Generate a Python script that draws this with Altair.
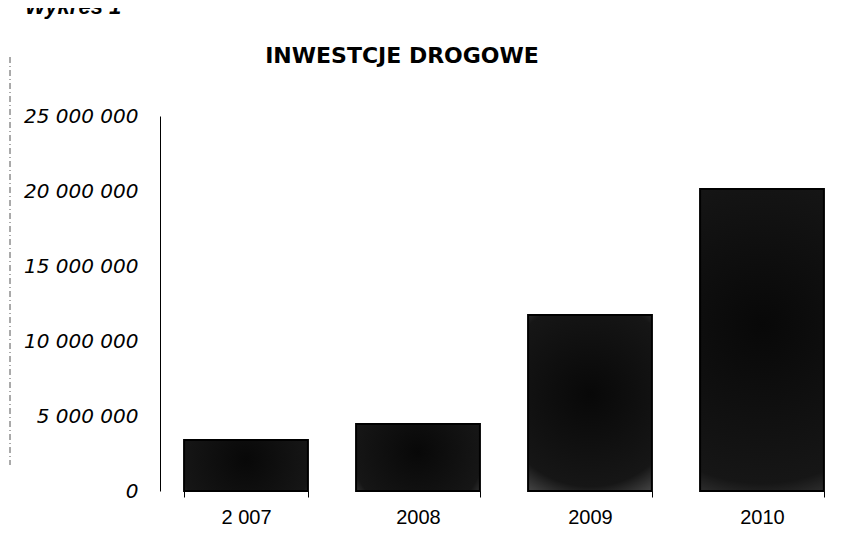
import altair as alt
import pandas as pd

years = ["2 007", "2008", "2009", "2010"]
values = [3400000, 4470000, 11730000, 20130000]
y_ticks = [0, 5000000, 10000000, 15000000, 20000000, 25000000]

df = pd.DataFrame({"rok": years, "wartosc": values})

FONT = "Liberation Sans"
WIDE = "DejaVu Sans"

grad = alt.RadialGradient(
    gradient="radial",
    stops=[
        alt.GradientStop(color="#080808", offset=0),
        alt.GradientStop(color="#161616", offset=0.7),
        alt.GradientStop(color="#6a6a6a", offset=1),
    ],
    x1=0.5, y1=0.45, r1=0, x2=0.5, y2=0.45, r2=0.75,
)

bars = alt.Chart(df).mark_bar(color=grad, stroke="#000000", strokeWidth=2).encode(
    x=alt.X(
        "rok:N",
        sort=years,
        title=None,
        scale=alt.Scale(paddingInner=0.28, paddingOuter=0.14),
        axis=alt.Axis(
            labelAngle=0,
            labelFont=FONT,
            labelFontSize=20,
            labelColor="#000000",
            labelPadding=10,
            domain=False,
            ticks=True,
            tickBand="extent",
            tickSize=6,
            tickColor="#000000",
            grid=False,
        ),
    ),
    y=alt.Y(
        "wartosc:Q",
        title=None,
        scale=alt.Scale(domain=[0, 25000000], nice=False),
        axis=alt.Axis(
            values=y_ticks,
            labelExpr="replace(format(datum.value, ',d'), regexp(',', 'g'), ' ')",
            labelFont=WIDE,
            labelFontSize=20,
            labelFontStyle="italic",
            labelColor="#000000",
            labelPadding=22,
            ticks=False,
            domain=True,
            domainColor="#000000",
            domainWidth=1,
            grid=False,
        ),
    ),
)

one = pd.DataFrame({"t": ["INWESTCJE DROGOWE"]})
title = alt.Chart(one).mark_text(
    font=WIDE, fontSize=22, fontWeight="bold", color="#000000",
    align="center", baseline="alphabetic",
).encode(text="t:N", x=alt.value(242), y=alt.value(-53))

lab = pd.DataFrame({"t": ["Wykres 1"]})
wykres = alt.Chart(lab).mark_text(
    font=FONT, fontSize=22, fontWeight="bold", fontStyle="italic", color="#000000",
    align="left", baseline="alphabetic",
).encode(text="t:N", x=alt.value(-135), y=alt.value(-102))

frame = alt.Chart(lab).mark_rule(
    color="#555555", strokeWidth=1, strokeDash=[6, 3, 1, 3]
).encode(x=alt.value(-150), y=alt.value(-59), y2=alt.value(349))

chart = alt.layer(bars, title, wykres, frame).properties(
    width=688,
    height=375,
    autosize=alt.AutoSizeParams(type="none"),
    padding={"left": 152, "top": 108, "right": 5, "bottom": 40},
    background="#ffffff",
).configure_view(stroke=None)

chart.save("out.html", embed_options={"renderer": "svg", "actions": False})
